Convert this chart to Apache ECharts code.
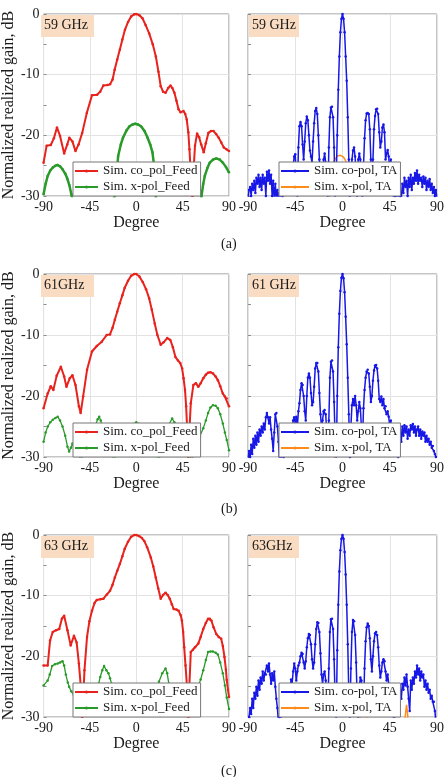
<!DOCTYPE html>
<html>
<head>
<meta charset="utf-8">
<script src="https://cdn.jsdelivr.net/npm/echarts@6/dist/echarts.min.js"></script>
<style>
  html, body { margin: 0; padding: 0; background: #fff; }
  #chart { width: 447px; height: 777px; }
</style>
</head>
<body>
<div id="chart"></div>
<script>
// ---- data ----
var freqLabelsFeed = ['59 GHz', '61GHz', '63 GHz'];
var freqLabelsTA = ['59 GHz', '61 GHz', '63GHz'];
var captions = ['(a)', '(b)', '(c)'];
var degTicks = [-90, -45, 0, 45, 90];

// feed patterns: [degree, dB]
var feed59Co = [[-90,-24.5],[-87,-21.7],[-83,-21.6],[-80,-20.5],[-77,-18.7],[-74,-20.1],[-70,-23],[-67,-21.5],[-65,-20.4],[-62,-21],[-59,-22.6],[-56,-21.5],[-52.5,-19.6],[-48,-16.3],[-43,-13.4],[-38,-13.3],[-35,-12.8],[-32,-11.8],[-28,-11.7],[-25.5,-11.6],[-23,-10.8],[-21,-9.2],[-18.5,-7.5],[-16,-5.9],[-13.5,-4.2],[-11,-2.6],[-8,-1.3],[-5,-0.4],[-2,-0.05],[0,0],[3,-0.2],[6,-0.7],[9,-1.8],[12.5,-3.2],[16,-5],[19,-7],[21.5,-9.5],[23.7,-11.9],[26,-12.8],[28.4,-13],[31,-12.2],[33.2,-11.8],[35,-12.2],[37,-13],[39,-14.3],[41,-15.7],[43,-16.2],[45.8,-16],[47.5,-16.5],[49,-17.4],[50.5,-19.5],[51.6,-22.3],[52.5,-25],[53.5,-28.5],[54.6,-31],[55.5,-26],[57,-21.7],[59,-19.7],[61,-20.3],[63,-21.5],[65.5,-22.8],[67.5,-21.3],[70,-19.6],[72.5,-19.3],[75,-19.3],[77.5,-19.8],[80,-20.4],[82.5,-21.2],[85,-22],[87.5,-22.3],[90,-22.6]];
var feed59X = [[-90,-29.7],[-88,-28],[-86,-26.7],[-83.5,-25.8],[-81,-25.3],[-78.5,-25],[-76.3,-24.9],[-74,-25.1],[-71.6,-25.6],[-69,-26.3],[-66.8,-27.2],[-65,-28.2],[-63,-29.7],[-61,-32],[-50,-33],[-30,-33],[-20.8,-30],[-19,-26.5],[-17.6,-23.4],[-15,-21.5],[-12.9,-20.4],[-9.5,-19.2],[-6.5,-18.5],[-3.5,-18.2],[-1,-18.1],[1.5,-18.2],[4.6,-18.5],[8,-19.3],[11,-20.4],[13.5,-21.5],[15.7,-22.8],[17.3,-25],[18.3,-27.5],[19,-30],[20,-33],[40,-33],[60,-33],[63.3,-30],[65,-28],[66.5,-26.7],[69,-25.4],[71.3,-24.5],[74.5,-24],[77.6,-23.8],[81,-24],[84,-24.5],[87,-25.2],[90,-26.1]];
var feed61Co = [[-90,-22],[-86,-19.6],[-83,-18.4],[-80.5,-19],[-77.3,-16.7],[-73.2,-15.2],[-70,-16.8],[-67.8,-18.5],[-64.6,-17.1],[-62,-16.6],[-59,-18.2],[-55.7,-21.7],[-54,-22.8],[-51.6,-20.1],[-47.8,-15.7],[-43,-12.7],[-38.3,-11.8],[-33.5,-11.1],[-28.7,-10],[-25.5,-9.9],[-23,-8.8],[-20.8,-7.5],[-18.5,-6.2],[-16,-4.8],[-13.5,-3.5],[-11.3,-2.3],[-8,-1.1],[-5,-0.3],[-2,-0.02],[0,0],[3,-0.4],[6.2,-1.3],[9.5,-2.5],[12.5,-4],[15,-5.8],[17.9,-8.1],[20.5,-10],[23.7,-11.6],[26.5,-11.2],[30,-10.5],[33,-10.8],[35.5,-12],[38,-13.6],[40.5,-14.2],[42.7,-14.6],[44.5,-15.5],[45.9,-17.1],[47.3,-19],[48.4,-21.7],[49.3,-25],[50,-28.9],[50.6,-30.5],[51.5,-26],[52.9,-21.2],[55.4,-18.2],[57.9,-17.9],[60.2,-18.5],[62.5,-17.9],[65,-17.1],[67.5,-16.5],[69.7,-16.2],[72,-16.1],[74.4,-16.3],[77,-16.8],[79.2,-17.4],[81.5,-18.4],[84,-19.6],[86,-20.1],[87.8,-20.4],[90,-21.7]];
var feed61X = [[-90,-27.5],[-88,-26],[-85.9,-25],[-83.5,-24.3],[-81,-23.9],[-78.5,-23.6],[-76.3,-23.4],[-74,-24],[-71.6,-25],[-69,-26.5],[-66.8,-28.3],[-65.2,-29.1],[-63.5,-28.5],[-62,-27.8],[-60.5,-28.5],[-59.5,-29.7],[-57,-29],[-54,-30.5],[-50,-29],[-45,-27],[-40,-25],[-37.5,-23.8],[-36,-23.4],[-34.5,-24],[-33,-25],[-28,-28],[-22,-30.5],[-15,-28],[-8,-26],[-3,-24.6],[0,-24.3],[3,-24.6],[8,-26],[15,-28],[22,-30.5],[28,-27],[32,-24.6],[34.8,-23.7],[37,-24.3],[40,-26],[44,-27.5],[50,-29],[54,-30.5],[56.5,-29],[58.6,-27.2],[61.7,-26.6],[65,-25.3],[67.5,-24],[69.7,-22.8],[72,-21.9],[74.4,-21.5],[77,-21.6],[79.2,-22],[81.5,-23],[84,-24.5],[86,-26],[87.8,-27.2],[90,-28.9]];
var feed63Co = [[-90,-21.5],[-86,-21.5],[-83.7,-17.4],[-81.1,-16],[-77.9,-15.7],[-74.8,-15.5],[-72.2,-13.8],[-70,-13.3],[-66.8,-15.7],[-63.7,-18.2],[-60.5,-16.6],[-57.9,-17.7],[-55.7,-21.2],[-54.1,-24.5],[-53.2,-28],[-52.5,-31],[-51.5,-27],[-50.3,-22.3],[-47.8,-16.8],[-45.5,-14.2],[-43,-12.5],[-40.5,-11.2],[-38.3,-10.7],[-35,-10.6],[-31.9,-10.5],[-28.5,-9.8],[-25.5,-9.2],[-23,-8.2],[-20.8,-7],[-18.5,-5.9],[-16,-4.8],[-13.5,-3.5],[-11.3,-2.3],[-8,-1.1],[-5,-0.3],[-2,-0.02],[0,0],[3,-0.2],[5.5,-0.5],[7.8,-1],[10.5,-2],[14.1,-3.7],[16.5,-5.2],[18.9,-7],[21.3,-8.8],[23.7,-10.5],[26,-9.9],[28.4,-9.5],[30.5,-9.9],[32.5,-10.5],[34.5,-11.4],[36.3,-12.2],[39,-12.3],[41.1,-12.5],[43,-13.2],[44.3,-14.1],[45.5,-16],[46.5,-18.5],[47.8,-21.5],[49,-24.5],[50,-28],[50.6,-31],[51.5,-25],[52.9,-19.3],[55,-18.9],[57,-18.5],[60.2,-17.9],[62.5,-16.8],[65,-15.5],[67.5,-14.5],[69.7,-13.8],[71.5,-13.8],[72.9,-14.1],[75,-15.2],[77.6,-16.3],[80,-16.8],[82.4,-17.1],[84,-18.3],[85.6,-20.1],[87,-22.2],[87.8,-23.9],[89,-25.5],[90,-26.7]];
var feed63X = [[-90,-24.8],[-86,-24],[-84,-23],[-81.7,-21.6],[-79,-21.3],[-76.3,-21.2],[-74,-21],[-71.6,-20.8],[-70,-21.5],[-68.4,-23],[-66.5,-24.3],[-65.2,-25],[-63,-25.8],[-60.5,-26.4],[-57.3,-27],[-54,-27.5],[-50,-26],[-45,-27],[-40,-26],[-36.5,-24.5],[-35,-23.4],[-33,-22.3],[-31.3,-21.6],[-29,-22.3],[-27,-22.8],[-25.5,-23.6],[-24,-24.5],[-21,-27],[-15,-28.5],[-8,-29],[0,-28.5],[8,-28],[15,-27],[19,-25.5],[22,-24.2],[25.2,-22.8],[28.4,-22],[30,-22.8],[31.6,-24.5],[34,-26],[40,-27],[48,-28],[52,-27.8],[55.4,-26.7],[58,-25.8],[60.2,-25],[62.5,-23.8],[65,-22.3],[67.5,-20.6],[69.7,-19.3],[72,-19.2],[74.4,-19.2],[77,-19.4],[79.2,-19.7],[81.5,-21],[84,-22.8],[86,-24.8],[87.8,-26.8],[90,-28.7]];

// transmitarray patterns sampled every degree from -90 to 90
var taDeg = [-90,-89,-88,-87,-86,-85,-84,-83,-82,-81,-80,-79,-78,-77,-76,-75,-74,-73,-72,-71,-70,-69,-68,-67,-66,-65,-64,-63,-62,-61,-60,-59,-58,-57,-56,-55,-54,-53,-52,-51,-50,-49,-48,-47,-46,-45,-44,-43,-42,-41,-40,-39,-38,-37,-36,-35,-34,-33,-32,-31,-30,-29,-28,-27,-26,-25,-24,-23,-22,-21,-20,-19,-18,-17,-16,-15,-14,-13,-12,-11,-10,-9,-8,-7,-6,-5,-4,-3,-2,-1,0,1,2,3,4,5,6,7,8,9,10,11,12,13,14,15,16,17,18,19,20,21,22,23,24,25,26,27,28,29,30,31,32,33,34,35,36,37,38,39,40,41,42,43,44,45,46,47,48,49,50,51,52,53,54,55,56,57,58,59,60,61,62,63,64,65,66,67,68,69,70,71,72,73,74,75,76,77,78,79,80,81,82,83,84,85,86,87,88,89,90];
var ta59Co = [-30.5,-29,-28.5,-30,-28,-29,-27.5,-29.5,-27,-28,-26.5,-28.5,-27,-29,-26.5,-28,-27,-30,-26,-27.5,-25.8,-28,-26.5,-30,-27.5,-31,-28,-30.5,-29,-31,-29.5,-31,-28.5,-30,-28,-29.5,-27.5,-29,-27,-28.5,-29,-27.5,-26,-25,-23.5,-23.1,-27,-30.5,-22,-18.5,-17.8,-18.5,-21.5,-24,-21,-18,-16.9,-17.5,-20,-22.5,-23.5,-24.5,-21,-18,-16,-15.5,-16.5,-20,-24,-27,-29,-27,-24,-23,-24.5,-27,-31,-22,-17,-15.4,-15.3,-17,-22,-31,-27,-20,-12.5,-7,-3,-0.8,0,-0.8,-3,-7,-11,-17,-24,-31,-28,-24,-22.5,-22,-23.5,-27,-31,-24,-23,-24,-28,-31,-25,-20.5,-17.5,-16.4,-16.3,-16.5,-19,-24,-27,-24,-19,-16.8,-15.7,-15.6,-16.5,-19.5,-22,-21,-18.7,-18.2,-19.5,-24,-23,-22.4,-23.5,-26,-24,-26,-29,-31,-30,-28.5,-31,-29,-31,-30,-30.5,-28,-29.5,-27,-28.5,-27.5,-30,-27,-28.5,-26.5,-29,-27,-28,-26.2,-27.5,-25.8,-28,-26.5,-27.5,-27,-28.5,-26.8,-28,-27,-29,-27.5,-28.5,-27.2,-29,-28,-29.5,-28.5,-30,-29,-30.5];
var ta61Co = [-30.5,-29,-30,-28,-29.5,-27,-28.5,-26.5,-28,-26,-27.5,-25.5,-26.5,-25,-26,-24.5,-25.5,-23.5,-22.8,-23.5,-24.5,-23.5,-25.5,-27,-29,-26,-23,-22.8,-25,-27.5,-30.5,-29,-31,-28.5,-30,-28,-29.5,-27,-28.5,-26.5,-27.5,-25.5,-26,-24,-23.5,-24.5,-23.4,-25,-22.5,-21.2,-19,-17.9,-18.2,-20,-22.5,-24,-20,-17,-16.3,-17,-19.5,-21.5,-21,-18.5,-15.5,-14.6,-14.6,-16,-19.5,-23,-25,-24,-22.5,-22.3,-23,-26,-28,-24,-17,-14.4,-14.2,-16,-21,-27,-31,-20,-12,-6.5,-2.8,-0.6,0,-0.7,-3,-7,-11.5,-17,-23,-30,-25,-21.5,-20.5,-21.5,-20,-21.5,-24,-22.5,-21,-22,-25,-28,-22,-19,-17,-16,-15.7,-16.3,-18.5,-21,-20,-17.5,-15.8,-15,-14.9,-15.5,-17.5,-20.5,-21,-20.1,-21.5,-20.5,-22,-21.7,-23,-22.5,-23.4,-25,-24,-26.5,-28,-29.5,-27,-28.5,-26.5,-30,-27,-25.5,-27.5,-25,-26.5,-24.8,-26,-25,-27,-25.5,-26.5,-24.8,-25.5,-24.6,-26,-25,-26.5,-25.5,-25,-26.5,-25.5,-27,-25.8,-26.5,-26,-27.5,-26.5,-27.5,-27,-28,-27.5,-28.5,-28.2,-29,-29.5,-30];
var ta63Co = [-31,-30,-28.5,-29.5,-27,-28.5,-26,-27,-25,-26.5,-24,-25.5,-23.5,-24.5,-22.5,-24,-22.8,-23,-21.5,-22.5,-21.2,-23,-24.5,-22.8,-24,-22.5,-25,-27,-28.5,-31,-30,-31,-29.5,-28,-29,-27,-28,-26,-27,-25,-26,-23.8,-24.5,-22.5,-21.2,-22,-24,-22.5,-21.5,-21,-20,-19.4,-19.6,-21,-22,-20.8,-18.5,-17,-16.3,-16.5,-18,-20.5,-22,-21,-18,-15.5,-14.4,-14.5,-16,-19.5,-23,-24.5,-23,-22.5,-24,-26.5,-29,-22,-16,-13.9,-13.8,-15.5,-20.5,-27,-31,-19,-11.5,-6,-2.5,-0.6,0,-0.6,-2.8,-6.5,-11.5,-18,-26,-31,-22,-16,-14,-14.2,-16.5,-21,-27,-31,-25,-23.5,-24,-26.5,-29,-22,-17.5,-15.2,-14.6,-15,-17,-20.5,-22.5,-20,-17.5,-16.2,-16,-16.5,-18.5,-21.5,-23.5,-22.5,-21,-20.5,-20.8,-22.5,-24,-23,-24.5,-26,-25,-27,-29,-31,-29.5,-27.5,-29,-26.5,-28,-25.5,-27,-24.5,-25.5,-23.5,-24.8,-23,-25,-27,-29,-24,-25.5,-23.5,-24.5,-22.5,-23.5,-21.5,-23,-22,-24,-22.5,-23.5,-23,-25,-24,-25.5,-24.5,-26,-25.5,-27,-26.5,-27.5,-27.5,-29,-31,-31];
var ta59X = [[-14,-35],[-10,-25.5],[-8,-24.2],[-5,-23.4],[-2,-23.3],[1,-23.6],[3,-24.2],[5,-25.5],[7,-35]];
var ta61X = [[-12,-35],[-6,-28],[0,-27],[6,-28],[12,-35]];
var ta63X = [[15,-35],[18,-27.5],[20,-24.5],[22,-27.5],[25,-35],[57,-35],[60,-29.5],[61,-28],[62,-29.5],[64,-35]];

// ---- layout ----
var rowTop = [14, 274, 535];
var rowHeight = [182, 183, 182];
var colLeft = [40, 248];
var plotWidth = 189;
var captionY = [245, 510, 772];

var serif = 'Liberation Serif';
var textColor = '#1a1a1a';
var names = {
    feedCo: 'Sim. co_pol_Feed',
    feedX: 'Sim. x-pol_Feed',
    taCo: 'Sim. co-pol, TA',
    taX: 'Sim. x-pol, TA'
};

function pairs(xs, ys) {
    var out = [];
    for (var i = 0; i < xs.length; i++) out.push([xs[i], ys[i]]);
    return out;
}

var panels = [
    { row: 0, col: 0, label: freqLabelsFeed[0], co: feed59Co, x: feed59X, coName: names.feedCo, xName: names.feedX, coColor: '#e8221c', xColor: '#2a9a2a', xWidth: 2.5 },
    { row: 0, col: 1, label: freqLabelsTA[0], co: pairs(taDeg, ta59Co), x: ta59X, coName: names.taCo, xName: names.taX, coColor: '#1717e6', xColor: '#ff8c1a', xWidth: 1.5 },
    { row: 1, col: 0, label: freqLabelsFeed[1], co: feed61Co, x: feed61X, coName: names.feedCo, xName: names.feedX, coColor: '#e8221c', xColor: '#2a9a2a', xWidth: 1.3 },
    { row: 1, col: 1, label: freqLabelsTA[1], co: pairs(taDeg, ta61Co), x: ta61X, coName: names.taCo, xName: names.taX, coColor: '#1717e6', xColor: '#ff8c1a', xWidth: 1.5 },
    { row: 2, col: 0, label: freqLabelsFeed[2], co: feed63Co, x: feed63X, coName: names.feedCo, xName: names.feedX, coColor: '#e8221c', xColor: '#2a9a2a', xWidth: 1.3 },
    { row: 2, col: 1, label: freqLabelsTA[2], co: pairs(taDeg, ta63Co), x: ta63X, coName: names.taCo, xName: names.taX, coColor: '#1717e6', xColor: '#ff8c1a', xWidth: 1.5 }
];

var grids = [], xAxes = [], yAxes = [], series = [], legends = [], graphics = [];

panels.forEach(function (p, i) {
    var left = colLeft[p.col];
    var top = rowTop[p.row];
    var h = rowHeight[p.row];
    grids.push({ left: left, top: top, width: plotWidth, height: h, show: true, borderColor: '#8c8c8c', borderWidth: 1, backgroundColor: '#fff' });
    xAxes.push({
        gridIndex: i, type: 'value', min: -90, max: 90, interval: 45,
        axisLine: { show: false, onZero: false }, axisTick: { show: false },
        axisLabel: { color: textColor, fontFamily: serif, fontSize: 14, margin: 4, showMinLabel: true, showMaxLabel: true },
        splitLine: { show: true, lineStyle: { color: '#e3e3e3', width: 1 } },
        name: 'Degree', nameLocation: 'middle', nameGap: 19,
        nameTextStyle: { color: textColor, fontFamily: serif, fontSize: 16 }
    });
    yAxes.push({
        gridIndex: i, type: 'value', min: -30, max: 0, interval: 10,
        axisLine: { show: false, onZero: false },
        axisTick: { show: true, inside: true, length: 3, lineStyle: { color: '#8c8c8c' } },
        minorTick: { show: true, splitNumber: 2, length: 3, lineStyle: { color: '#8c8c8c' } },
        axisLabel: { show: p.col === 0, color: textColor, fontFamily: serif, fontSize: 14, margin: 4 },
        splitLine: { show: true, lineStyle: { color: '#e3e3e3', width: 1 } },
        name: p.col === 0 ? 'Normalized realized gain, dB' : '',
        nameLocation: 'middle', nameGap: 23, nameRotate: 90,
        nameTextStyle: { color: textColor, fontFamily: serif, fontSize: 16 }
    });
    series.push({
        type: 'line', name: p.coName, xAxisIndex: i, yAxisIndex: i, data: p.co,
        symbol: 'circle', symbolSize: 2.5, showSymbol: true, clip: true,
        itemStyle: { color: p.coColor }, lineStyle: { color: p.coColor, width: p.col === 0 ? 2 : 1.5 },
        z: 3
    });
    series.push({
        type: 'line', name: p.xName, xAxisIndex: i, yAxisIndex: i, data: p.x,
        symbol: 'circle', symbolSize: 2.5, showSymbol: p.col === 0, clip: true,
        itemStyle: { color: p.xColor }, lineStyle: { color: p.xColor, width: p.xWidth },
        z: 2
    });
    legends.push({
        left: p.col === 0 ? left + 33 : left + 31,
        top: top + h - 34,
        orient: 'vertical',
        data: [p.coName, p.xName],
        selectedMode: false,
        backgroundColor: '#fff',
        borderColor: '#777',
        borderWidth: 1,
        padding: [1, 3, 1, 1],
        itemGap: 0,
        itemWidth: p.col === 0 ? 23 : 28,
        itemHeight: 4,
        textStyle: { color: textColor, fontFamily: serif, fontSize: 13, lineHeight: 16 },
        z: 5
    });
    var labelW = p.col === 0 ? 53 : 50;
    graphics.push({
        type: 'rect', left: left + 1, top: top + 1, z: 10,
        shape: { width: labelW, height: 22 },
        style: { fill: '#f9dcc2' }
    });
    graphics.push({
        type: 'text', left: left + 4, top: top + 4, z: 11,
        style: { text: p.label, fill: textColor, font: '14px "Liberation Serif"' }
    });
});

captions.forEach(function (c, r) {
    graphics.push({
        type: 'text', left: 221, top: captionY[r] - 8, z: 11,
        style: { text: c, fill: textColor, font: '14px "Liberation Serif"' }
    });
});

var chart = echarts.init(document.getElementById('chart'));
chart.setOption({
    animation: false,
    backgroundColor: '#fff',
    grid: grids,
    xAxis: xAxes,
    yAxis: yAxes,
    legend: legends,
    series: series,
    graphic: graphics
});
</script>
</body>
</html>
